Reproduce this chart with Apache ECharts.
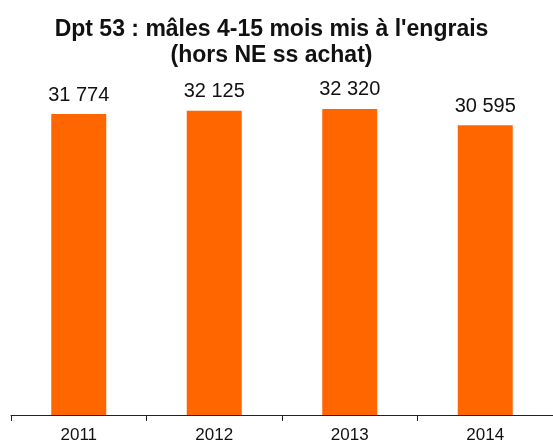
<!DOCTYPE html>
<html>
<head>
<meta charset="utf-8">
<script src="https://cdn.jsdelivr.net/npm/echarts@6/dist/echarts.min.js"></script>
<style>
  html, body { margin: 0; padding: 0; background: #fff; }
  #chart { width: 553px; height: 444px; }
</style>
</head>
<body>
<div id="chart"></div>
<script>
const years = ['2011', '2012', '2013', '2014']
const males = [31774, 32125, 32320, 30595]
const titleLines = ["Dpt 53 : mâles 4-15 mois mis à l'engrais", '(hors NE ss achat)']

const chart = echarts.init(document.getElementById('chart'))

chart.setOption({
  animation: false,
  // titre centré sur deux lignes
  graphic: titleLines.map((line, i) => ({
    type: 'text',
    x: 271.5,
    y: 30 + i * 26,
    style: {
      text: line,
      align: 'center',
      verticalAlign: 'middle',
      fill: '#111',
      font: 'bold 23px "Liberation Sans"'
    }
  })),
  grid: {
    left: 11,
    top: 83.5,
    width: 553,
    height: 332.5,
    containLabel: false
  },
  xAxis: {
    type: 'category',
    data: years,
    axisLine: { show: true, lineStyle: { color: '#222', width: 1 } },
    axisTick: { show: true, length: 6, alignWithLabel: false, lineStyle: { color: '#222' } },
    axisLabel: {
      color: '#111',
      fontFamily: 'Liberation Sans',
      fontSize: 17,
      margin: 12
    }
  },
  yAxis: {
    type: 'value',
    min: 0,
    max: 35000,
    show: false
  },
  series: [{
    type: 'bar',
    data: males,
    barWidth: 55,
    itemStyle: { color: '#FF6600' },
    label: {
      show: true,
      position: 'top',
      distance: 9,
      color: '#111',
      fontFamily: 'Liberation Sans',
      fontSize: 20,
      formatter: p => String(p.value).replace(/\B(?=(\d{3})+(?!\d))/g, ' ')
    }
  }]
})
</script>
</body>
</html>
